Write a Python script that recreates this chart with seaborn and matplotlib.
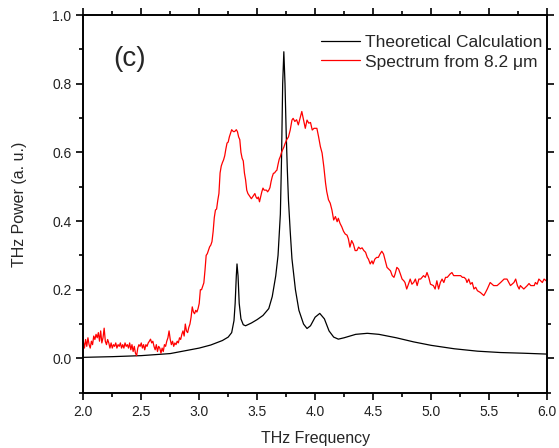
import pandas as pd
import matplotlib.pyplot as plt
from matplotlib.ticker import MultipleLocator, FormatStrFormatter
import seaborn as sns

# curva teorica
theo_freq = [2.00, 2.25, 2.50, 2.75, 3.00, 3.10, 3.20, 3.25, 3.28, 3.30, 3.31, 3.32,
             3.326, 3.335, 3.345, 3.36, 3.38, 3.40, 3.45, 3.50, 3.55, 3.60, 3.63, 3.66,
             3.68, 3.70, 3.71, 3.72, 3.73, 3.74, 3.75, 3.76, 3.77, 3.785, 3.80, 3.83,
             3.86, 3.90, 3.93, 3.96, 4.00, 4.04, 4.08, 4.12, 4.16, 4.20, 4.25, 4.35,
             4.45, 4.55, 4.70, 4.85, 5.00, 5.20, 5.40, 5.60, 5.80, 6.00]
theo_power = [0.003, 0.005, 0.008, 0.014, 0.030, 0.039, 0.052, 0.062, 0.075, 0.110, 0.160, 0.240,
              0.275, 0.240, 0.160, 0.115, 0.098, 0.095, 0.103, 0.113, 0.125, 0.145, 0.180, 0.240,
              0.300, 0.420, 0.580, 0.800, 0.893, 0.800, 0.660, 0.550, 0.460, 0.370, 0.290, 0.200,
              0.140, 0.100, 0.087, 0.095, 0.120, 0.131, 0.115, 0.080, 0.062, 0.056, 0.060, 0.070,
              0.073, 0.070, 0.060, 0.048, 0.038, 0.028, 0.021, 0.017, 0.015, 0.0125]

# espectro medido desde 8.2 um
spec_freq = [2.00, 2.01, 2.02, 2.03, 2.04, 2.05, 2.06, 2.07, 2.08, 2.09, 2.10, 2.11, 2.12, 2.13,
             2.14, 2.15, 2.16, 2.17, 2.18, 2.19, 2.20, 2.21, 2.22, 2.23, 2.24, 2.25, 2.26, 2.27,
             2.28, 2.29, 2.30, 2.31, 2.32, 2.33, 2.34, 2.35, 2.36, 2.37, 2.38, 2.39, 2.40, 2.41,
             2.42, 2.43, 2.44, 2.45, 2.46, 2.47, 2.48, 2.49, 2.50, 2.51, 2.52, 2.53, 2.54, 2.55,
             2.56, 2.57, 2.58, 2.59, 2.60, 2.61, 2.62, 2.63, 2.64, 2.65, 2.66, 2.67, 2.68, 2.69,
             2.70, 2.71, 2.72, 2.73, 2.74, 2.75, 2.76, 2.77, 2.78, 2.79, 2.80, 2.81, 2.82, 2.83,
             2.84, 2.85, 2.86, 2.87, 2.88, 2.89, 2.90, 2.91, 2.92, 2.93, 2.94, 2.95, 2.96, 2.97,
             2.98, 2.99, 3.00, 3.01, 3.02, 3.03, 3.04, 3.05, 3.06, 3.07, 3.08, 3.09, 3.10, 3.11,
             3.12, 3.13, 3.14, 3.15, 3.16, 3.17, 3.18, 3.19, 3.20, 3.21, 3.22, 3.23, 3.24, 3.25,
             3.26, 3.27, 3.28, 3.29, 3.30, 3.31, 3.32, 3.33, 3.34, 3.35, 3.36, 3.37, 3.38, 3.39,
             3.40, 3.41, 3.42, 3.43, 3.44, 3.45, 3.46, 3.47, 3.48, 3.49, 3.50, 3.51, 3.52, 3.53,
             3.54, 3.55, 3.56, 3.57, 3.58, 3.59, 3.60, 3.61, 3.62, 3.63, 3.64, 3.65, 3.66, 3.67,
             3.68, 3.69, 3.70, 3.71, 3.72, 3.73, 3.74, 3.755, 3.77, 3.785, 3.80, 3.81, 3.825, 3.84,
             3.855, 3.87, 3.885, 3.90, 3.915, 3.93, 3.945, 3.96, 3.975, 3.99, 4.015, 4.03, 4.045,
             4.06, 4.075, 4.09, 4.10, 4.115, 4.13, 4.145, 4.16, 4.175, 4.19, 4.20, 4.215, 4.23,
             4.245, 4.26, 4.275, 4.287, 4.30, 4.315, 4.33, 4.345, 4.36, 4.375, 4.39, 4.405, 4.42,
             4.435, 4.45, 4.46, 4.475, 4.49, 4.50, 4.515, 4.53, 4.545, 4.56, 4.575, 4.59, 4.605,
             4.62, 4.635, 4.65, 4.665, 4.68, 4.69, 4.705, 4.72, 4.735, 4.75, 4.765, 4.775, 4.79,
             4.805, 4.82, 4.835, 4.85, 4.865, 4.88, 4.895, 4.91, 4.935, 4.95, 4.965, 4.98, 4.995,
             5.02, 5.035, 5.05, 5.065, 5.08, 5.095, 5.11, 5.125, 5.14, 5.165, 5.18, 5.195, 5.225,
             5.255, 5.27, 5.285, 5.30, 5.31, 5.325, 5.34, 5.355, 5.37, 5.385, 5.40, 5.425, 5.455,
             5.47, 5.485, 5.51, 5.54, 5.57, 5.60, 5.63, 5.655, 5.685, 5.715, 5.73, 5.745, 5.76,
             5.77, 5.80, 5.83, 5.845, 5.86, 5.89, 5.90, 5.915, 5.93, 5.945, 5.96, 5.975, 6.00]
spec_power = [0.050, 0.030, 0.055, 0.035, 0.060, 0.040, 0.030, 0.050, 0.040, 0.065, 0.055, 0.070, 0.060, 0.075,
              0.050, 0.080, 0.045, 0.060, 0.088, 0.050, 0.040, 0.055, 0.045, 0.030, 0.045, 0.030, 0.040, 0.035,
              0.045, 0.030, 0.040, 0.035, 0.045, 0.030, 0.040, 0.030, 0.045, 0.035, 0.040, 0.030, 0.045, 0.025,
              0.040, 0.020, 0.035, 0.015, 0.008, 0.030, 0.040, 0.035, 0.045, 0.030, 0.040, 0.025, 0.040, 0.035,
              0.045, 0.050, 0.056, 0.045, 0.050, 0.035, 0.025, 0.040, 0.020, 0.035, 0.030, 0.015, 0.030, 0.020,
              0.040, 0.035, 0.050, 0.060, 0.080, 0.055, 0.040, 0.050, 0.035, 0.045, 0.040, 0.050, 0.045, 0.060,
              0.055, 0.070, 0.080, 0.065, 0.100, 0.080, 0.075, 0.090, 0.100, 0.120, 0.150, 0.135, 0.130, 0.140,
              0.135, 0.145, 0.160, 0.200, 0.200, 0.210, 0.220, 0.257, 0.300, 0.305, 0.315, 0.325, 0.330, 0.340,
              0.369, 0.410, 0.432, 0.435, 0.460, 0.480, 0.540, 0.560, 0.570, 0.578, 0.590, 0.610, 0.627, 0.630,
              0.645, 0.656, 0.666, 0.662, 0.660, 0.662, 0.666, 0.660, 0.645, 0.637, 0.600, 0.583, 0.575, 0.540,
              0.520, 0.490, 0.480, 0.475, 0.470, 0.465, 0.470, 0.475, 0.480, 0.470, 0.465, 0.470, 0.456, 0.470,
              0.485, 0.496, 0.490, 0.490, 0.490, 0.485, 0.490, 0.497, 0.515, 0.529, 0.539, 0.540, 0.545, 0.548,
              0.565, 0.580, 0.588, 0.600, 0.608, 0.615, 0.625, 0.637, 0.645, 0.665, 0.694, 0.699, 0.690, 0.695,
              0.680, 0.699, 0.719, 0.694, 0.670, 0.694, 0.685, 0.687, 0.665, 0.670, 0.670, 0.645, 0.617,
              0.598, 0.558, 0.510, 0.486, 0.462, 0.452, 0.432, 0.403, 0.413, 0.398, 0.408, 0.393, 0.383,
              0.370, 0.362, 0.359, 0.348, 0.324, 0.343, 0.333, 0.314, 0.314, 0.324, 0.319, 0.322, 0.314,
              0.309, 0.294, 0.289, 0.275, 0.284, 0.275, 0.289, 0.294, 0.294, 0.304, 0.312, 0.304, 0.284,
              0.265, 0.260, 0.255, 0.241, 0.236, 0.246, 0.265, 0.260, 0.246, 0.231, 0.226, 0.221, 0.202,
              0.216, 0.231, 0.216, 0.221, 0.231, 0.212, 0.231, 0.231, 0.241, 0.236, 0.250, 0.236, 0.216,
              0.212, 0.202, 0.226, 0.202, 0.221, 0.231, 0.221, 0.236, 0.236, 0.246, 0.250, 0.241, 0.241,
              0.241, 0.236, 0.236, 0.231, 0.221, 0.231, 0.216, 0.221, 0.202, 0.207, 0.197, 0.192, 0.183,
              0.192, 0.202, 0.221, 0.212, 0.212, 0.221, 0.231, 0.231, 0.212, 0.221, 0.231, 0.212, 0.202,
              0.212, 0.202, 0.212, 0.218, 0.212, 0.212, 0.221, 0.216, 0.231, 0.226, 0.221, 0.231, 0.224]

sns.set_theme(style="ticks")
plt.rcParams['font.family'] = ['Liberation Sans', 'DejaVu Sans']

fig = plt.figure(figsize=(5.59, 4.48), dpi=100)
ax = fig.add_axes([0.149, 0.1234, 0.8295, 0.8431])

df_theo = pd.DataFrame({'freq': theo_freq, 'power': theo_power})
df_spec = pd.DataFrame({'freq': spec_freq, 'power': spec_power})

sns.lineplot(data=df_theo, x='freq', y='power', color='black', linewidth=0.9,
             estimator=None, label='Theoretical Calculation', ax=ax)
sns.lineplot(data=df_spec, x='freq', y='power', color='red', linewidth=0.9,
             estimator=None, label='Spectrum from 8.2 \u03bcm', ax=ax)

ax.set_xlim(2.0, 6.0)
ax.set_ylim(-0.1, 1.0)
ax.xaxis.set_major_locator(MultipleLocator(0.5))
ax.xaxis.set_minor_locator(MultipleLocator(0.25))
ax.yaxis.set_major_locator(MultipleLocator(0.2))
ax.yaxis.set_minor_locator(MultipleLocator(0.1))
ax.xaxis.set_major_formatter(FormatStrFormatter('%.1f'))
ax.yaxis.set_major_formatter(FormatStrFormatter('%.1f'))

for s in ax.spines.values():
    s.set_visible(True)
    s.set_linewidth(1.4)
    s.set_color('black')
ax.tick_params(which='both', direction='out', top=True, right=True,
               labeltop=False, labelright=False, width=1.2, colors='black',
               labelsize=10, labelcolor='#222222')
ax.tick_params(which='major', length=5)
ax.tick_params(which='minor', length=2.7)

ax.set_xlabel('THz Frequency', fontsize=11.5, labelpad=9)
ax.set_ylabel('THz Power (a. u.)', fontsize=11.5, labelpad=18)

ax.text(0.064, 0.865, '(c)', transform=ax.transAxes, fontsize=20)

ax.legend(loc='upper right', frameon=False, fontsize=12.5, handlelength=2.2,
          handletextpad=0.3, labelspacing=0.25, borderaxespad=0.2,
          bbox_to_anchor=(1.012, 0.975))

plt.savefig('out.png', dpi=100)
